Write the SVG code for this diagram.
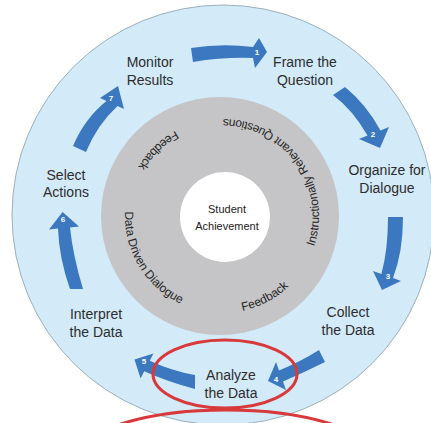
<svg xmlns="http://www.w3.org/2000/svg" width="431" height="423" viewBox="0 0 431 423">
<style>
.lbl{font-family:"Liberation Sans",Arial,sans-serif;font-size:14px;fill:#2d2d2d;text-anchor:middle}
.ring{font-family:"Liberation Sans",Arial,sans-serif;font-size:12px;fill:#262626}
.num{font-family:"Liberation Sans",Arial,sans-serif;font-size:8px;font-weight:bold;fill:#ffffff;text-anchor:middle}
.arrow{fill:#3b78c0}
.red{fill:none;stroke:#d8393b;stroke-width:3}
</style>
<defs>
<path id="ringPath" d="M222,313 A97,97 0 1,0 222,119 A97,97 0 1,0 222,313"/>
</defs>
<rect width="431" height="423" fill="#ffffff"/>
<g id="outer">
<ellipse cx="223" cy="215" rx="211" ry="210" fill="#d3eaf8" stroke="#9db0bb" stroke-width="1"/>
</g>
<g id="ring-group">
<circle cx="220" cy="216" r="119" fill="#c5c5c7"/>
<text class="ring"><textPath href="#ringPath" startOffset="47" text-anchor="middle">Feedback</textPath></text>
<text class="ring"><textPath href="#ringPath" startOffset="121">Instructionally</textPath></text>
<text class="ring"><textPath href="#ringPath" startOffset="198">Relevant</textPath></text>
<text class="ring"><textPath href="#ringPath" startOffset="249">Questions</textPath></text>
<text class="ring"><textPath href="#ringPath" startOffset="379" text-anchor="middle">Feedback</textPath></text>
<text class="ring"><textPath href="#ringPath" startOffset="452">Data</textPath></text>
<text class="ring"><textPath href="#ringPath" startOffset="480.5">Driven</textPath></text>
<text class="ring"><textPath href="#ringPath" startOffset="518.5">Dialogue</textPath></text>
</g>
<g id="center">
<circle cx="225" cy="217" r="45" fill="#ffffff"/>
<text x="227" y="213" font-family="Liberation Sans, Arial, sans-serif" font-size="11" fill="#222" text-anchor="middle">Student</text>
<text x="227" y="230" font-family="Liberation Sans, Arial, sans-serif" font-size="11" fill="#222" text-anchor="middle">Achievement</text>
</g>
<g id="connectors">
<path class="arrow" d="M191,48 Q222,43 253,47 L259,38 L267,52 L255,68 L253,58 Q223,57 193,62 Z"/>
<path class="arrow" d="M333,95 L345,87 Q366,104 380.5,130.4 L389,127 L380,148 L359,139 L367.5,135.6 Q353,110 333,95 Z"/>
<path class="arrow" d="M388,217 L403,217 Q403,252 393,278 L401,281 L382,290 L373,271 L381.4,274 Q388,250 388,217 Z"/>
<path class="arrow" d="M319,350 L325,362 Q305,372 283,381.6 L286,390 L268,381 L276,362 L279,370.4 Q300,362 319,350 Z"/>
<path class="arrow" d="M195,375 L195,389 Q168,382 144.2,371.3 L140.6,378.5 L134.5,359.6 L153.4,353.5 L149.8,360.7 Q172,371 195,375 Z"/>
<path class="arrow" d="M70,289 L83,289 Q73,256 70,227.5 L79,226.6 L62.6,212 L49,229.4 L58,228.5 Q59,258 70,289 Z"/>
<path class="arrow" d="M73,146 L86,152 Q97,125 117.5,106 L124,109 L118,86 L100,98 L106.5,101 Q85,118 73,146 Z"/>
<text class="num" x="257" y="55">1</text>
<text class="num" x="373" y="137">2</text>
<text class="num" x="388" y="279">3</text>
<text class="num" x="276" y="382">4</text>
<text class="num" x="144" y="364">5</text>
<text class="num" x="63" y="222">6</text>
<text class="num" x="111" y="101">7</text>
</g>
<g id="monitor"><text class="lbl" x="150" y="67">Monitor</text><text class="lbl" x="150" y="85">Results</text></g>
<g id="frame"><text class="lbl" x="305" y="67">Frame the</text><text class="lbl" x="305" y="85">Question</text></g>
<g id="organize"><text class="lbl" x="387" y="175">Organize for</text><text class="lbl" x="387" y="193">Dialogue</text></g>
<g id="collect"><text class="lbl" x="348" y="317">Collect</text><text class="lbl" x="348" y="335">the Data</text></g>
<g id="analyze"><text class="lbl" x="231" y="380">Analyze</text><text class="lbl" x="231" y="398">the Data</text></g>
<g id="interpret"><text class="lbl" x="96" y="319">Interpret</text><text class="lbl" x="96" y="337">the Data</text></g>
<g id="select"><text class="lbl" x="66" y="180">Select</text><text class="lbl" x="66" y="197">Actions</text></g>
<g id="highlights">
<ellipse class="red" cx="225" cy="374" rx="72" ry="34"/>
<ellipse class="red" cx="226" cy="455" rx="145" ry="45"/>
</g>
</svg>
